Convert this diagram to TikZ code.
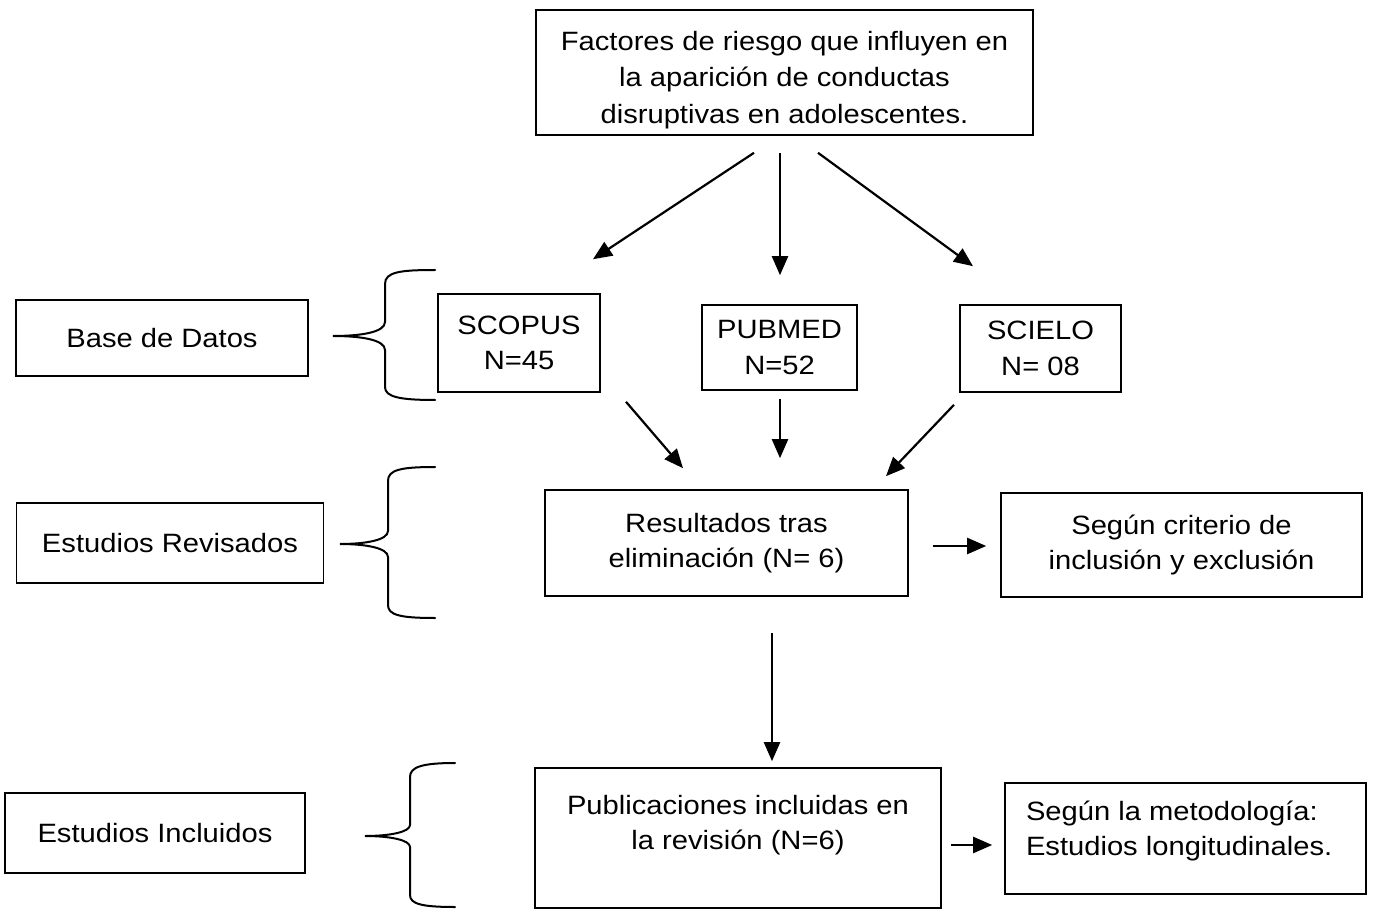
\documentclass[tikz,border=0pt]{standalone}
\usepackage{fontspec}
\setmainfont[FakeStretch=1.1]{Liberation Sans}
\usetikzlibrary{arrows.meta,positioning,calc}

\tikzset{
  every picture/.style={line width=1.6pt},
  box/.style={draw, line width=1.6pt, inner sep=0pt, align=center, font=\fontsize{26.5}{35.5}\selectfont},
  txt/.style={inner sep=0pt, align=center, font=\fontsize{26.5}{35}\selectfont},
  arr/.style={line width=2.2pt, -{Triangle[length=19pt,width=16pt]}},
  brace/.style={line width=2pt, line cap=round}
}

\begin{document}
\begin{tikzpicture}[x=1pt,y=-1pt]
\useasboundingbox (0,0) rectangle (1395,909);
% tema
\node[box, minimum width=497pt, minimum height=125pt] (tema) at (784.5,72.5) {};
\node[txt, font=\fontsize{26.5}{36.5}\selectfont, below=21pt of tema.north] (tematxt) {Factores de riesgo que influyen en\\la aparici\'on de conductas\\disruptivas en adolescentes.};
% bases de datos
\node[box, minimum width=292pt, minimum height=76pt] (basedatos) at (162,338) {Base de Datos};
\node[box, minimum width=162pt, minimum height=98pt] (scopus) at (519,343) {SCOPUS\\N=45};
\node[box, minimum width=155pt, minimum height=85pt] (pubmed) at (779.5,347.5) {PUBMED\\N=52};
\node[box, minimum width=161pt, minimum height=87pt] (scielo) at (1040.5,348.5) {SCIELO\\N= 08};
% estudios revisados
\node[box, minimum width=307pt, minimum height=80pt] (revisados) at (170,543) {Estudios Revisados};
\node[box, minimum width=363pt, minimum height=106pt] (result) at (726.5,543) {Resultados tras\\eliminaci\'on (N= 6)};
\node[box, minimum width=361pt, minimum height=104pt] (criterio) at (1181.5,545) {Seg\'un criterio de\\inclusi\'on y exclusi\'on};
% estudios incluidos
\node[box, minimum width=300pt, minimum height=80pt] (incluidos) at (155,833) {Estudios Incluidos};
\node[box, minimum width=406pt, minimum height=140pt] (pub) at (738,838) {};
\node[txt, below=27pt of pub.north] (pubtxt) {Publicaciones incluidas en\\la revisi\'on (N=6)};
\node[box, minimum width=361pt, minimum height=111pt] (metodo) at (1185.5,838.5) {};
\node[txt, align=left, below right=18pt and 21pt of metodo.north west] (metodotxt) {Seg\'un la metodolog\'ia:\\Estudios longitudinales.};

% flechas
\draw[arr] ($(tema.south)+(-30.5,17)$) -- ($(scopus.north)+(74,-34)$);
\draw[arr] ($(tema.south)+(-4.5,17)$) -- ($(pubmed.north)+(0.5,-29)$);
\draw[arr] ($(tema.south)+(33.5,17)$) -- ($(scielo.north)+(-67.5,-38)$);
\draw[arr] ($(scopus.south)+(107,9)$) -- ($(result.north)+(-43.5,-21)$);
\draw[arr] ($(pubmed.south)+(0.5,8)$) -- ($(result.north)+(53.5,-31)$);
\draw[arr] ($(scielo.south)+(-86.5,12)$) -- ($(result.north)+(159.5,-13)$);
\draw[arr] ($(result.east)+(24,3)$) -- ($(criterio.west)+(-14,1)$);
\draw[arr] ($(result.south)+(45.5,36)$) -- ($(pub.north)+(34,-6)$);
\draw[arr] ($(pub.east)+(9,7)$) -- ($(metodo.west)+(-12,6.5)$);

% llaves
\draw[brace] (435,270) .. controls (400,270) and (385,272) .. (385,284) -- (385,322) .. controls (385,332) and (362,336) .. (333,336) .. controls (362,336) and (385,340) .. (385,350) -- (385,387) .. controls (385,397) and (400,400) .. (435,400);
\draw[brace] (435,467) .. controls (400,467) and (388,470) .. (388,481) -- (388,531) .. controls (388,540) and (366,544) .. (340,544) .. controls (366,544) and (388,548) .. (388,557) -- (388,605) .. controls (388,615) and (400,618) .. (435,618);
\draw[brace] (455,763) .. controls (422,763) and (410,767) .. (410,777) -- (410,825) .. controls (410,832) and (390,836) .. (365,836) .. controls (390,836) and (410,840) .. (410,847) -- (410,895) .. controls (410,904) and (422,907) .. (455,907);
\end{tikzpicture}
\end{document}
